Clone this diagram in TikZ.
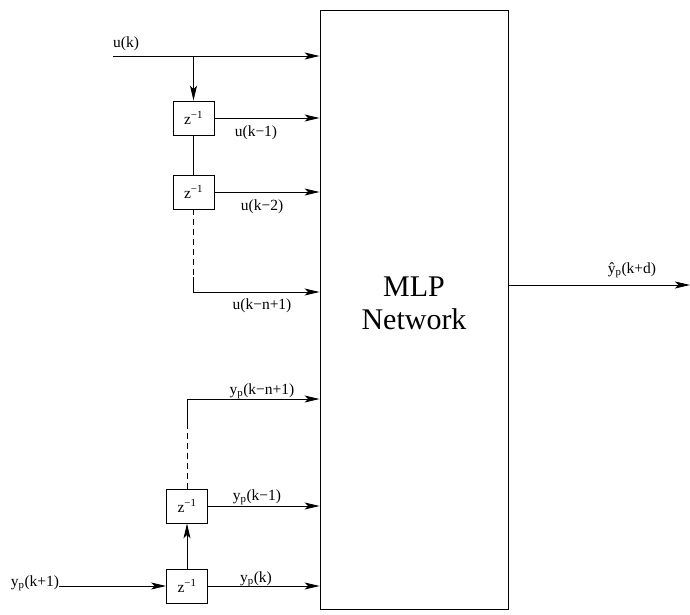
\documentclass[tikz,border=0pt]{standalone}
\usepackage{fontspec}
\setmainfont{Liberation Serif}
\usetikzlibrary{arrows.meta}
\tikzset{
  delay/.style={draw,fill=white,line width=.9pt,minimum width=41pt,minimum height=34pt,inner sep=0pt,font=\fontsize{15.5}{17}\selectfont},
  mlp/.style={draw,line width=.9pt,minimum width=188pt,minimum height=599pt,inner sep=0pt},
  lbl/.style={font=\fontsize{15.5}{17}\selectfont,inner sep=0pt},
  flow/.style={-{Stealth[length=15pt,width=7pt,inset=3.5pt]},line width=.9pt},
  plainline/.style={line width=.9pt},
  gapline/.style={line width=.9pt,dash pattern=on 6pt off 4pt}
}

\begin{document}
\begin{tikzpicture}[x=1pt,y=1pt]
  \useasboundingbox (0,0) rectangle (690,614);
  \node[mlp] (net) at (414,304.5) {};
  \node[align=center,font=\fontsize{30}{33}\selectfont] (nettext) at (414,311) {MLP\\Network};

  % u(k) and its delay line
  \coordinate (uin) at (113,558);
  \coordinate (ubr) at (193.5,558);
  \node[lbl] (luk) at (126,570) {u(k)};
  \node[delay] (du1) at (193.5,496) {z\textsuperscript{−1}};
  \node[delay] (du2) at (193.5,422) {z\textsuperscript{−1}};
  \coordinate (udash) at (193.5,337);
  \coordinate (ulast) at (193.5,322);
  \draw[flow] (uin) -- (uin -| net.west);
  \draw[flow] (ubr) -- (du1);
  \draw[flow] (du1) -- (du1 -| net.west);
  \draw[plainline] (du1) -- (du2);
  \draw[flow] (du2) -- (du2 -| net.west);
  \draw[gapline] (du2) -- (udash);
  \draw[flow] (udash) -- (ulast) -- (ulast -| net.west);
  \node[lbl] (lu1) at (256,481) {u(k−1)};
  \node[lbl] (lu2) at (262,407) {u(k−2)};
  \node[lbl] (lun) at (262,308) {u(k−n+1)};

  % y_p(k+1) and its delay line
  \node[lbl] (lyin) at (35,31) {y\textsubscript{p}(k+1)};
  \node[delay] (dy1) at (187,28) {z\textsuperscript{−1}};
  \node[delay] (dy2) at (187,108) {z\textsuperscript{−1}};
  \coordinate (ydash) at (187,191);
  \coordinate (ylast) at (187,215);
  \draw[flow] (lyin.east |- dy1) -- (dy1);
  \draw[flow] (dy1) -- (dy2);
  \draw[flow] (dy1) -- (dy1 -| net.west);
  \draw[flow] (dy2) -- (dy2 -| net.west);
  \draw[gapline] (dy2) -- (ydash);
  \draw[flow] (ydash) -- (ylast) -- (ylast -| net.west);
  \node[lbl] (ly0) at (256,35) {y\textsubscript{p}(k)};
  \node[lbl] (ly1) at (257,117) {y\textsubscript{p}(k−1)};
  \node[lbl] (lyn) at (262,223) {y\textsubscript{p}(k−n+1)};

  % output
  \coordinate (yout) at (690,329);
  \draw[flow] (net.east |- yout) -- (yout);
  \node[lbl] (lout) at (632,344) {\^{y}\textsubscript{p}(k+d)};
\end{tikzpicture}
\end{document}
